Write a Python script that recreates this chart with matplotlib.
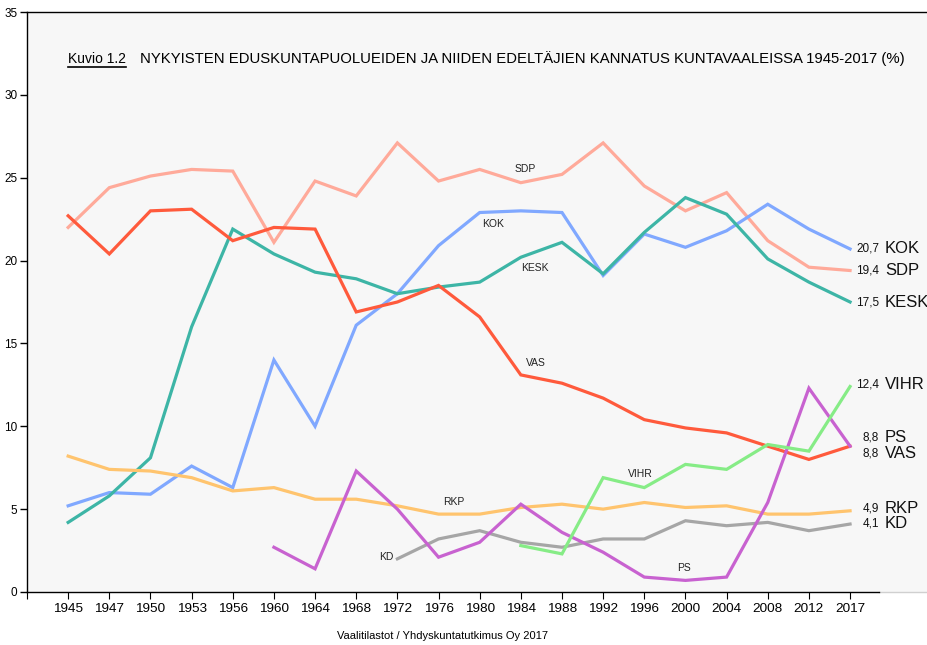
import numpy as np
import matplotlib
matplotlib.use("Agg")
import matplotlib.pyplot as plt
from matplotlib.lines import Line2D

plt.rcParams['font.family'] = ['Liberation Sans', 'DejaVu Sans']

years = ['1945', '1947', '1950', '1953', '1956', '1960', '1964', '1968', '1972', '1976',
         '1980', '1984', '1988', '1992', '1996', '2000', '2004', '2008', '2012', '2017']

nan = np.nan
sdp = [22.0, 24.4, 25.1, 25.5, 25.4, 21.1, 24.8, 23.9, 27.1, 24.8,
       25.5, 24.7, 25.2, 27.1, 24.5, 23.0, 24.1, 21.2, 19.6, 19.4]
kok = [5.2, 6.0, 5.9, 7.6, 6.3, 14.0, 10.0, 16.1, 18.0, 20.9,
       22.9, 23.0, 22.9, 19.1, 21.6, 20.8, 21.8, 23.4, 21.9, 20.7]
kesk = [4.2, 5.8, 8.1, 16.0, 21.9, 20.4, 19.3, 18.9, 18.0, 18.4,
        18.7, 20.2, 21.1, 19.2, 21.7, 23.8, 22.8, 20.1, 18.7, 17.5]
vas = [22.7, 20.4, 23.0, 23.1, 21.2, 22.0, 21.9, 16.9, 17.5, 18.5,
       16.6, 13.1, 12.6, 11.7, 10.4, 9.9, 9.6, 8.8, 8.0, 8.8]
rkp = [8.2, 7.4, 7.3, 6.9, 6.1, 6.3, 5.6, 5.6, 5.2, 4.7,
       4.7, 5.1, 5.3, 5.0, 5.4, 5.1, 5.2, 4.7, 4.7, 4.9]
kd = [nan, nan, nan, nan, nan, nan, nan, nan, 2.0, 3.2,
      3.7, 3.0, 2.7, 3.2, 3.2, 4.3, 4.0, 4.2, 3.7, 4.1]
ps = [nan, nan, nan, nan, nan, 2.7, 1.4, 7.3, 5.0, 2.1,
      3.0, 5.3, 3.6, 2.4, 0.9, 0.7, 0.9, 5.4, 12.3, 8.8]
vihr = [nan, nan, nan, nan, nan, nan, nan, nan, nan, nan,
        nan, 2.8, 2.3, 6.9, 6.3, 7.7, 7.4, 8.9, 8.5, 12.4]

parties = ['SDP', 'KOK', 'KESK', 'VAS', 'RKP', 'KD', 'PS', 'VIHR']
series = [sdp, kok, kesk, vas, rkp, kd, ps, vihr]
colors = ['#FFAA9A', '#80A8FF', '#3DB5A6', '#FF5A3C', '#FFC46E', '#A6A6A6', '#C862D0', '#86EC86']

# inline labels: (x index, y value, ha)
inline = {
    'SDP': (11.1, 25.5, 'center'), 'KOK': (10.33, 22.2, 'center'),
    'KESK': (11.35, 19.55, 'center'), 'VAS': (11.37, 13.8, 'center'),
    'RKP': (9.38, 5.45, 'center'), 'KD': (7.9, 2.1, 'right'),
    'VIHR': (13.9, 7.1, 'center'), 'PS': (14.97, 1.45, 'center'),
}
# end labels nudged apart where they would overlap
end_offset = {'SDP': 0.0, 'KOK': 0.05, 'KESK': -0.05, 'VAS': -0.42,
              'RKP': 0.15, 'KD': 0.05, 'PS': 0.5, 'VIHR': 0.1}

fig = plt.figure(figsize=(9.28, 6.45), dpi=100)
W, H = 928, 645
ax = fig.add_axes([27 / W, (H - 592) / H, 1 - 27 / W, (592 - 12) / H])
ax.set_facecolor('#F7F7F7')

x = np.arange(len(years))
for name, vals, c in zip(parties, series, colors):
    ax.plot(x, vals, color=c, lw=2.3, solid_joinstyle='miter', zorder=3)

for name, (xi, yv, ha) in inline.items():
    ax.text(xi, yv, name, fontsize=7.5, ha=ha, va='center', color='#222222', zorder=4)

for name, vals in zip(parties, series):
    yv = vals[-1] + end_offset[name]
    ax.annotate(f"{vals[-1]:.1f}".replace('.', ','), (x[-1], yv),
                xytext=(29, 0), textcoords='offset pixels',
                ha='right', va='center', fontsize=8.5, color='#111111')
    ax.annotate(name, (x[-1], yv), xytext=(35, 0), textcoords='offset pixels',
                ha='left', va='center', fontsize=12, color='#111111')

ax.set_xlim(-1, (928 - 68) / 41.16)
ax.set_ylim(0, 35)
ax.set_yticks(np.arange(0, 36, 5))
ax.set_xticks(np.arange(-1, len(years)))
ax.set_xticklabels([''] + years)
ax.tick_params(axis='y', direction='out', length=5, width=1, labelsize=8.5, pad=2)
ax.tick_params(axis='x', direction='out', length=5, width=0.8, labelsize=9.7, pad=3)
for s in ['left', 'bottom', 'top']:
    ax.spines[s].set_color('black')
    ax.spines[s].set_linewidth(1.0)
ax.spines['right'].set_visible(False)
ax.spines['bottom'].set_bounds(-1, 19.7)
ax.plot([19.7, 21], [0, 0], color='#D0D0D0', lw=1.0, clip_on=False, zorder=2)

kuvio = fig.text(68 / W, 1 - 59 / H, 'Kuvio 1.2', fontsize=10, ha='left', va='center')
fig.text(140 / W, 1 - 59 / H,
         'NYKYISTEN EDUSKUNTAPUOLUEIDEN JA NIIDEN EDELTÄJIEN KANNATUS KUNTAVAALEISSA 1945-2017 (%)',
         fontsize=10.7, ha='left', va='center')
fig.canvas.draw()
bb = kuvio.get_window_extent()
fig.add_artist(Line2D([bb.x0 / W, bb.x1 / W], [(bb.y0 - 1) / H] * 2,
                      color='black', lw=1.2, transform=fig.transFigure))

fig.text(443 / W, 1 - 636 / H, 'Vaalitilastot / Yhdyskuntatutkimus Oy 2017',
         fontsize=8, ha='center', va='center')

fig.savefig('out.png', dpi=100)
